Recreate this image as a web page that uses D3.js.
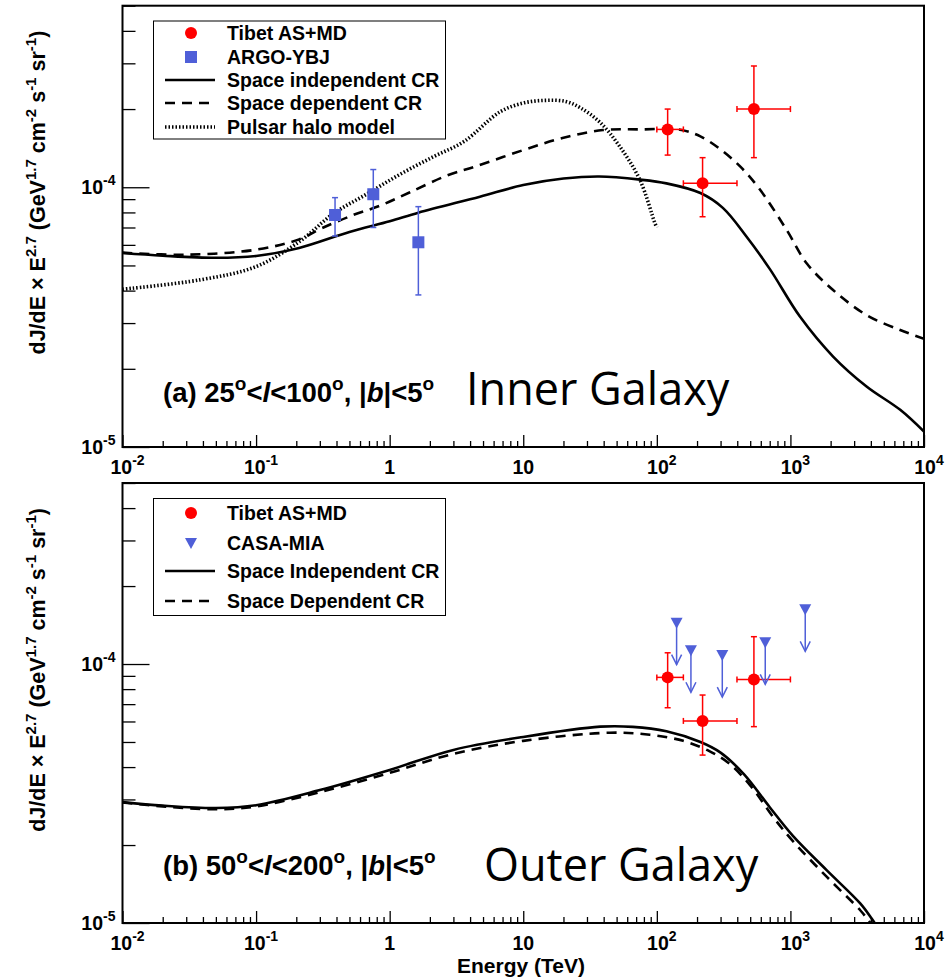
<!DOCTYPE html>
<html lang="en">
  <head>
    <meta charset="UTF-8" />
    <title>Diffuse gamma rays: inner and outer Galaxy</title>
    <script src="https://d3js.org/d3.v7.min.js"></script>
    <style>
      body {
        margin: 0;
        background: #fff;
      }
      svg {
        font-family: "Liberation Sans", Arial, sans-serif;
        font-weight: bold;
      }
    </style>
  </head>
  <body>
    <svg id="chart" width="945" height="980"></svg>
    <script>
      // ---- data: [energy TeV, dJ/dE x E^2.7] ----
      const innerIndependent = [
        [0.01, 5.58e-5], [0.02, 5.45e-5], [0.05, 5.35e-5], [0.1, 5.44e-5],
        [0.21, 5.84e-5], [0.5, 6.73e-5], [1, 7.4e-5], [1.64, 7.98e-5],
        [4.74, 9.2e-5], [10, 1.02e-4], [20, 1.08e-4], [37, 1.1e-4],
        [75, 1.07e-4], [118, 1.035e-4], [212, 9.5e-5], [312, 8.33e-5],
        [470, 6.45e-5], [700, 4.85e-5], [1182, 3.17e-5], [2087, 2.23e-5],
        [3715, 1.71e-5], [6637, 1.39e-5], [10000, 1.146e-5]
      ];
      const innerDependent = [
        [0.01, 5.6e-5], [0.03, 5.5e-5], [0.1, 5.75e-5], [0.21, 6.3e-5],
        [0.31, 6.95e-5], [0.534, 7.82e-5], [0.846, 8.49e-5], [1.42, 9.57e-5],
        [2.75, 1.115e-4], [4.35, 1.2e-4], [10, 1.39e-4], [20, 1.55e-4],
        [39.5, 1.66e-4], [75, 1.67e-4], [149, 1.665e-4], [212, 1.57e-4],
        [299, 1.4e-4], [422, 1.2e-4], [591, 9.8e-5], [937, 6.85e-5],
        [1322, 5.1e-5], [2087, 4.02e-5], [3715, 3.22e-5], [6637, 2.82e-5],
        [10000, 2.61e-5]
      ];
      const pulsarHalo = [
        [0.01, 4.05e-5], [0.038, 4.4e-5], [0.1, 4.95e-5], [0.213, 6.2e-5],
        [0.377, 7.9e-5], [0.67, 9.4e-5], [1.19, 1.12e-4], [2.12, 1.31e-4],
        [3.6, 1.5e-4], [6.69, 1.95e-4], [10, 2.11e-4], [14.5, 2.16e-4],
        [20.7, 2.14e-4], [26.9, 2.02e-4], [37.7, 1.774e-4], [52.9, 1.433e-4],
        [74.7, 1.067e-4], [96.8, 7.27e-5], [100, 7.0e-5]
      ];
      const outerIndependent = [
        [0.01, 2.93e-5], [0.02, 2.84e-5], [0.05, 2.78e-5], [0.1, 2.85e-5],
        [0.3, 3.26e-5], [1, 3.9e-5], [3, 4.66e-5], [10, 5.23e-5],
        [37.7, 5.73e-5], [66, 5.72e-5], [118, 5.5e-5], [212, 5.0e-5],
        [300, 4.55e-5], [450, 3.75e-5], [700, 2.8e-5], [1044, 2.17e-5],
        [1866, 1.6e-5], [3331, 1.19e-5], [4056, 1.04e-5], [4500, 0.96e-5]
      ];
      const outerDependent = [
        [0.01, 2.92e-5], [0.02, 2.82e-5], [0.05, 2.75e-5], [0.1, 2.82e-5],
        [0.3, 3.2e-5], [1, 3.8e-5], [3, 4.5e-5], [10, 5.05e-5],
        [44.4, 5.43e-5], [88.7, 5.33e-5], [157.6, 5.05e-5], [249, 4.6e-5],
        [350, 4.12e-5], [500, 3.4e-5], [750, 2.55e-5], [1044, 2.07e-5],
        [1866, 1.51e-5], [3331, 1.12e-5], [3856, 1.02e-5], [4300, 0.95e-5]
      ];

      // measurements
      const innerTibet = [
        { e: 120.5, lo: 100, hi: 158, v: 1.67e-4, vLo: 1.33e-4, vHi: 2.0e-4 },
        { e: 220, lo: 158, hi: 398, v: 1.036e-4, vLo: 7.7e-5, vHi: 1.3e-4 },
        { e: 533, lo: 398, hi: 1000, v: 2.0e-4, vLo: 1.3e-4, vHi: 2.93e-4 }
      ];
      const innerArgo = [
        { e: 0.39, v: 7.82e-5, vLo: 6.49e-5, vHi: 9.12e-5 },
        { e: 0.754, v: 9.4e-5, vLo: 7.0e-5, vHi: 1.17e-4 },
        { e: 1.64, v: 6.14e-5, vLo: 3.85e-5, vHi: 8.42e-5 }
      ];
      const outerTibet = [
        { e: 120.5, lo: 100, hi: 158, v: 8.88e-5, vLo: 6.78e-5, vHi: 1.105e-4 },
        { e: 220, lo: 158, hi: 398, v: 6.03e-5, vLo: 4.45e-5, vHi: 7.59e-5 },
        { e: 533, lo: 398, hi: 1000, v: 8.72e-5, vLo: 5.73e-5, vHi: 1.275e-4 }
      ];
      const casaMia = [
        { e: 140.6, v: 1.444e-4 },
        { e: 180, v: 1.13e-4 },
        { e: 309, v: 1.083e-4 },
        { e: 648, v: 1.213e-4 },
        { e: 1291, v: 1.626e-4 }
      ];

      const xDecades = [-2, -1, 0, 1, 2, 3, 4];
      const yDomain = [1e-5, 5e-4];
      const red = "#ff0000";
      const blue = "#4f5fd8";

      const svg = d3.select("#chart");
      const x = d3.scaleLog().domain([1e-2, 1e4]).range([122.5, 924]);

      // text with superscripts / italics, parts = [[string, kind]]
      function rich(sel, parts, supSize, raise) {
        let shift = 0;
        parts.forEach(([s, kind]) => {
          const t = sel.append("tspan").text(s);
          const target = kind === "sup" ? -raise : 0;
          if (target !== shift) {
            t.attr("dy", target - shift);
            shift = target;
          }
          if (kind === "sup") t.style("font-size", supSize + "px");
          if (kind === "i") t.style("font-style", "italic");
        });
        return sel;
      }

      function powParts(k) {
        if (k === 0) return [["1", "n"]];
        if (k === 1) return [["10", "n"]];
        return [["10", "n"], [String(k), "sup"]];
      }

      function drawPanel(p) {
        const y = d3.scaleLog().domain(yDomain).range([p.bottom, p.top]);
        const g = svg.append("g");
        const clipId = "clip" + p.id;
        svg.append("clipPath").attr("id", clipId)
          .append("rect")
          .attr("x", x.range()[0]).attr("y", p.top)
          .attr("width", x.range()[1] - x.range()[0])
          .attr("height", p.bottom - p.top);

        // x ticks
        const xMinor = [];
        xDecades.slice(0, -1).forEach((k) => {
          for (let m = 2; m <= 9; m++) xMinor.push(m * Math.pow(10, k));
        });
        g.append("g")
          .attr("transform", `translate(0,${p.bottom})`)
          .call(d3.axisBottom(x).tickValues(xMinor).tickSize(-6).tickFormat(""))
          .call((a) => a.select(".domain").remove())
          .call((a) => a.selectAll("line").attr("stroke", "#000").attr("stroke-width", 1.3));
        g.append("g")
          .attr("transform", `translate(0,${p.bottom})`)
          .call(d3.axisBottom(x).tickValues(xDecades.map((k) => Math.pow(10, k))).tickSize(-12).tickFormat(""))
          .call((a) => a.select(".domain").remove())
          .call((a) => a.selectAll("line").attr("stroke", "#000").attr("stroke-width", 1.3));

        xDecades.forEach((k) => {
          const t = g.append("text")
            .attr("x", x(Math.pow(10, k)) + (k < 0 || k > 1 ? 5 : 0))
            .attr("y", p.bottom + 27)
            .attr("text-anchor", "middle")
            .style("font-size", "19.5px");
          rich(t, powParts(k), 14, 9);
        });

        // y ticks
        const yMinor = [];
        for (let m = 2; m <= 9; m++) yMinor.push(m * 1e-5);
        for (let m = 2; m <= 5; m++) yMinor.push(m * 1e-4);
        g.append("g")
          .attr("transform", `translate(${x.range()[0]},0)`)
          .call(d3.axisLeft(y).tickValues(yMinor).tickSize(-13).tickFormat(""))
          .call((a) => a.select(".domain").remove())
          .call((a) => a.selectAll("line").attr("stroke", "#000").attr("stroke-width", 1.3));
        g.append("g")
          .attr("transform", `translate(${x.range()[0]},0)`)
          .call(d3.axisLeft(y).tickValues([1e-5, 1e-4]).tickSize(-27).tickFormat(""))
          .call((a) => a.select(".domain").remove())
          .call((a) => a.selectAll("line").attr("stroke", "#000").attr("stroke-width", 1.3));
        [-5, -4].forEach((k) => {
          const t = g.append("text")
            .attr("x", x.range()[0] - 7)
            .attr("y", y(Math.pow(10, k)) + 7)
            .attr("text-anchor", "end")
            .style("font-size", "19.5px");
          rich(t, powParts(k), 14, 9);
        });

        // y title
        const yt = g.append("text")
          .attr("transform", `translate(45,${p.top + 25}) rotate(-90)`)
          .attr("text-anchor", "end")
          .style("font-size", "21.5px");
        rich(yt, [
          ["dJ/dE \u00d7 E", "n"], ["2.7", "sup"], [" (GeV", "n"], ["1.7", "sup"],
          [" cm", "n"], ["-2", "sup"], [" s", "n"], ["-1", "sup"],
          [" sr", "n"], ["-1", "sup"], [")", "n"]
        ], 15, 9);

        // curves
        const line = d3.line()
          .x((d) => x(d[0]))
          .y((d) => y(d[1]))
          .curve(d3.curveCatmullRom.alpha(0.5));
        const curves = g.append("g").attr("clip-path", `url(#${clipId})`);
        p.curves.forEach((c) => {
          curves.append("path")
            .attr("d", line(c.data))
            .attr("fill", "none")
            .attr("stroke", "#000")
            .attr("stroke-width", c.width)
            .attr("stroke-dasharray", c.dash);
        });

        // frame
        g.append("rect")
          .attr("x", x.range()[0]).attr("y", p.top)
          .attr("width", x.range()[1] - x.range()[0])
          .attr("height", p.bottom - p.top)
          .attr("fill", "none")
          .attr("stroke", "#000")
          .attr("stroke-width", 2);

        // Tibet points with error bars
        const tib = g.append("g").selectAll("g").data(p.tibet).join("g");
        tib.append("line")
          .attr("x1", (d) => x(d.lo)).attr("x2", (d) => x(d.hi))
          .attr("y1", (d) => y(d.v)).attr("y2", (d) => y(d.v));
        tib.append("line")
          .attr("x1", (d) => x(d.e)).attr("x2", (d) => x(d.e))
          .attr("y1", (d) => y(d.vLo)).attr("y2", (d) => y(d.vHi));
        tib.append("line")
          .attr("x1", (d) => x(d.e) - 3).attr("x2", (d) => x(d.e) + 3)
          .attr("y1", (d) => y(d.vLo)).attr("y2", (d) => y(d.vLo));
        tib.append("line")
          .attr("x1", (d) => x(d.e) - 3).attr("x2", (d) => x(d.e) + 3)
          .attr("y1", (d) => y(d.vHi)).attr("y2", (d) => y(d.vHi));
        tib.append("line")
          .attr("x1", (d) => x(d.lo)).attr("x2", (d) => x(d.lo))
          .attr("y1", (d) => y(d.v) - 3).attr("y2", (d) => y(d.v) + 3);
        tib.append("line")
          .attr("x1", (d) => x(d.hi)).attr("x2", (d) => x(d.hi))
          .attr("y1", (d) => y(d.v) - 3).attr("y2", (d) => y(d.v) + 3);
        tib.selectAll("line").attr("stroke", red).attr("stroke-width", 1.5);
        tib.append("circle")
          .attr("cx", (d) => x(d.e)).attr("cy", (d) => y(d.v))
          .attr("r", 6).attr("fill", red);

        // second data set
        if (p.argo) {
          const ag = g.append("g").selectAll("g").data(p.argo).join("g");
          ag.append("line")
            .attr("x1", (d) => x(d.e)).attr("x2", (d) => x(d.e))
            .attr("y1", (d) => y(d.vLo)).attr("y2", (d) => y(d.vHi));
          ag.append("line")
            .attr("x1", (d) => x(d.e) - 3).attr("x2", (d) => x(d.e) + 3)
            .attr("y1", (d) => y(d.vLo)).attr("y2", (d) => y(d.vLo));
          ag.append("line")
            .attr("x1", (d) => x(d.e) - 3).attr("x2", (d) => x(d.e) + 3)
            .attr("y1", (d) => y(d.vHi)).attr("y2", (d) => y(d.vHi));
          ag.selectAll("line").attr("stroke", blue).attr("stroke-width", 1.5);
          ag.append("rect")
            .attr("x", (d) => x(d.e) - 6).attr("y", (d) => y(d.v) - 6)
            .attr("width", 12).attr("height", 12).attr("fill", blue);
        }
        if (p.casa) {
          const cg = g.append("g").selectAll("g").data(p.casa).join("g")
            .attr("transform", (d) => `translate(${x(d.e)},${y(d.v)})`);
          cg.append("line").attr("x1", 0).attr("x2", 0).attr("y1", 0).attr("y2", 42);
          cg.append("polyline").attr("points", "-5,32 0,42 5,32");
          cg.selectAll("line,polyline")
            .attr("stroke", blue).attr("stroke-width", 1.5).attr("fill", "none");
          cg.append("path").attr("d", "M-6,-5L6,-5L0,6Z").attr("fill", blue);
        }

        // legend
        const lg = g.append("g");
        lg.append("rect")
          .attr("x", 153.5).attr("y", p.legend.y)
          .attr("width", 292).attr("height", p.legend.h)
          .attr("fill", "#fff").attr("stroke", "#000").attr("stroke-width", 1);
        p.legend.items.forEach((it) => {
          const cy = it.y;
          if (it.type === "circle") {
            lg.append("circle").attr("cx", 191).attr("cy", cy).attr("r", 6).attr("fill", red);
          } else if (it.type === "square") {
            lg.append("rect").attr("x", 185).attr("y", cy - 6).attr("width", 12).attr("height", 12).attr("fill", blue);
          } else if (it.type === "tri") {
            lg.append("path").attr("d", `M185,${cy - 5}L197,${cy - 5}L191,${cy + 6}Z`).attr("fill", blue);
          } else {
            lg.append("line")
              .attr("x1", 165).attr("x2", 215).attr("y1", cy).attr("y2", cy)
              .attr("stroke", "#000").attr("stroke-width", it.width)
              .attr("stroke-dasharray", it.dash);
          }
          lg.append("text").attr("x", 227).attr("y", cy + 7)
            .style("font-size", "19.5px").text(it.label);
        });

        // region label
        const rt = g.append("text")
          .attr("x", 163).attr("y", p.region.y)
          .style("font-size", "27.5px");
        rich(rt, p.region.parts, 19, 12);
        g.append("text")
          .attr("x", p.region.bigX).attr("y", p.region.bigY)
          .style("font-family", "'Open Sans', 'Noto Sans', sans-serif")
          .style("font-weight", "normal")
          .style("font-size", "45px")
          .text(p.region.big);
      }

      const solid = { width: 2.6, dash: null };
      const dashed = { width: 2.6, dash: "10,7" };
      const dotted = { width: 3.6, dash: "1.5,2" };

      drawPanel({
        id: "a", top: 5.7, bottom: 447,
        curves: [
          { data: innerIndependent, ...solid },
          { data: innerDependent, ...dashed },
          { data: pulsarHalo, ...dotted }
        ],
        tibet: innerTibet, argo: innerArgo,
        legend: {
          y: 21, h: 118,
          items: [
            { type: "circle", y: 33, label: "Tibet AS+MD" },
            { type: "square", y: 57, label: "ARGO-YBJ" },
            { type: "line", y: 80, label: "Space independent CR", ...solid },
            { type: "line", y: 103, label: "Space dependent CR", ...dashed },
            { type: "line", y: 127, label: "Pulsar halo model", ...dotted }
          ]
        },
        region: {
          y: 402,
          parts: [["(a) 25", "n"], ["o", "sup"], ["<", "n"], ["l", "i"], ["<100", "n"],
                  ["o", "sup"], [", |", "n"], ["b", "i"], ["|<5", "n"], ["o", "sup"]],
          big: "Inner Galaxy", bigX: 466, bigY: 405
        }
      });

      drawPanel({
        id: "b", top: 483, bottom: 923,
        curves: [
          { data: outerIndependent, ...solid },
          { data: outerDependent, ...dashed }
        ],
        tibet: outerTibet, casa: casaMia,
        legend: {
          y: 498.5, h: 117,
          items: [
            { type: "circle", y: 513, label: "Tibet AS+MD" },
            { type: "tri", y: 543, label: "CASA-MIA" },
            { type: "line", y: 571, label: "Space Independent CR", ...solid },
            { type: "line", y: 601, label: "Space Dependent CR", ...dashed }
          ]
        },
        region: {
          y: 875,
          parts: [["(b) 50", "n"], ["o", "sup"], ["<", "n"], ["l", "i"], ["<200", "n"],
                  ["o", "sup"], [", |", "n"], ["b", "i"], ["|<5", "n"], ["o", "sup"]],
          big: "Outer Galaxy", bigX: 484, bigY: 881
        }
      });

      svg.append("text")
        .attr("x", 521).attr("y", 973)
        .attr("text-anchor", "middle")
        .style("font-size", "21px")
        .text("Energy (TeV)");
    </script>
  </body>
</html>
